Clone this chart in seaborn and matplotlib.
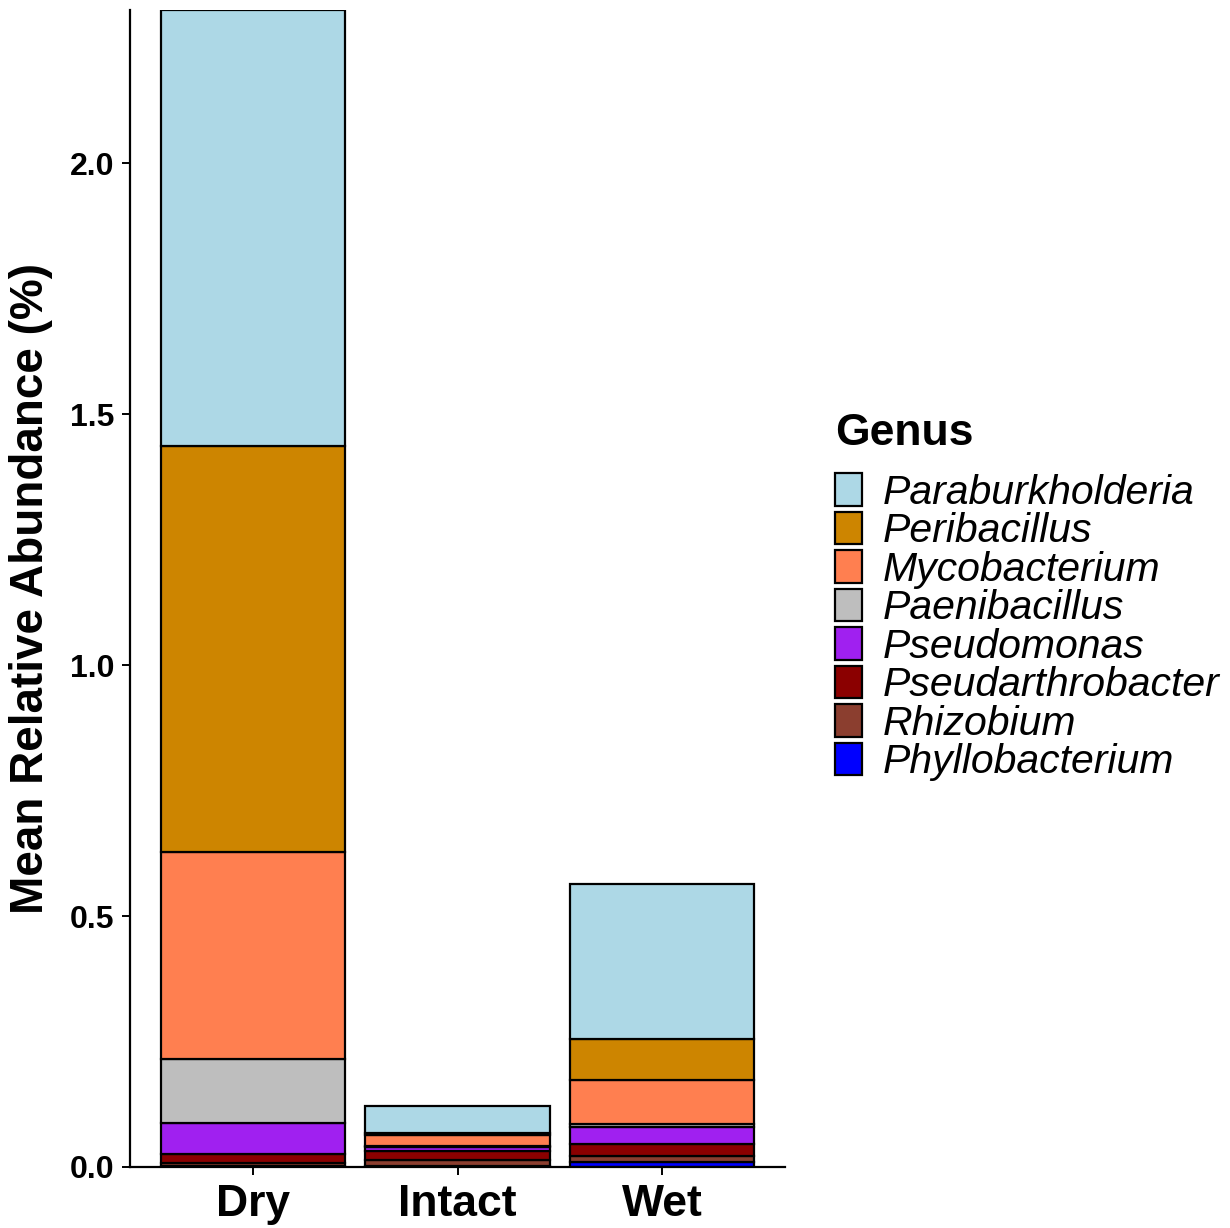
import numpy as np
import pandas as pd
import matplotlib
matplotlib.use("Agg")
import matplotlib.pyplot as plt
from matplotlib.patches import Patch
import seaborn as sns

groups = ["Dry", "Intact", "Wet"]
genus = ["Paraburkholderia", "Peribacillus", "Mycobacterium", "Paenibacillus",
         "Pseudomonas", "Pseudarthrobacter", "Rhizobium", "Phyllobacterium"]
dry = [0.869, 0.809, 0.412, 0.127, 0.062, 0.018, 0.006, 0.002]
intact = [0.054, 0.004, 0.022, 0.002, 0.007, 0.018, 0.012, 0.002]
wet = [0.309, 0.082, 0.087, 0.006, 0.034, 0.024, 0.013, 0.009]
colors = ["#ADD8E6", "#CD8500", "#FF7F50", "#BEBEBE",
          "#A020F0", "#8B0000", "#8B3E2F", "#0000FF"]
yticks = [0.0, 0.5, 1.0, 1.5, 2.0]

sns.set_style("white")
plt.rcParams["font.family"] = ["Liberation Sans", "DejaVu Sans"]
plt.rcParams["text.color"] = "black"
plt.rcParams["axes.labelcolor"] = "black"
plt.rcParams["xtick.color"] = "black"
plt.rcParams["ytick.color"] = "black"

rows = []
for g, vals in zip(groups, [dry, intact, wet]):
    for gen, v in zip(genus, vals):
        rows.append({"Group": g, "Genus": gen, "Abundance": v})
df = pd.DataFrame(rows)
df["Group"] = pd.Categorical(df["Group"], categories=groups, ordered=True)

fig = plt.figure(figsize=(12.3, 12.28), dpi=100)
ax = fig.add_axes([130 / 1230, 1 - 1167 / 1228, 655 / 1230, 1157 / 1228])

sns.histplot(data=df, x="Group", hue="Genus", weights="Abundance",
             hue_order=genus, palette=colors, multiple="stack",
             discrete=True, shrink=0.9, alpha=1, edgecolor="black",
             linewidth=1.6, legend=False, ax=ax)

ax.set_xlim(-0.6, 2.6)
ax.set_ylim(0, sum(dry))
ax.set_yticks(yticks)
ax.set_yticklabels([f"{t:.1f}" for t in yticks])
ax.set_xticks(range(len(groups)))
ax.set_xticklabels(groups)
for s in ["top", "right"]:
    ax.spines[s].set_visible(False)
for s in ["left", "bottom"]:
    ax.spines[s].set_linewidth(1.6)
    ax.spines[s].set_color("black")
ax.tick_params(axis="both", which="major", length=6, width=1.4, color="black",
               labelcolor="black", left=True, bottom=True)
ax.tick_params(axis="y", labelsize=23, pad=5)
ax.tick_params(axis="x", labelsize=32, pad=6)
for lab in ax.get_yticklabels() + ax.get_xticklabels():
    lab.set_fontweight("bold")
ax.set_xlabel("")
ax.set_ylabel("Mean Relative Abundance (%)", fontsize=33, fontweight="bold",
              labelpad=12, color="black")
ax.grid(False)

fig.text(835 / 1230, 1 - 445 / 1228, "Genus", fontsize=32, fontweight="bold",
         ha="left", va="baseline", color="black")

handles = [Patch(facecolor=c, edgecolor="black", linewidth=1.6, label=g)
           for g, c in zip(genus, colors)]
leg = fig.legend(handles=handles, loc="upper left",
                 bbox_to_anchor=(835 / 1230, 1 - 473 / 1228), frameon=False,
                 prop={"size": 29.5, "style": "italic"},
                 handlelength=0.67, handleheight=0.85, handletextpad=0.5,
                 labelspacing=0.0, borderaxespad=0, borderpad=0)
for t in leg.get_texts():
    t.set_color("black")

fig.savefig("out.png", dpi=100)
